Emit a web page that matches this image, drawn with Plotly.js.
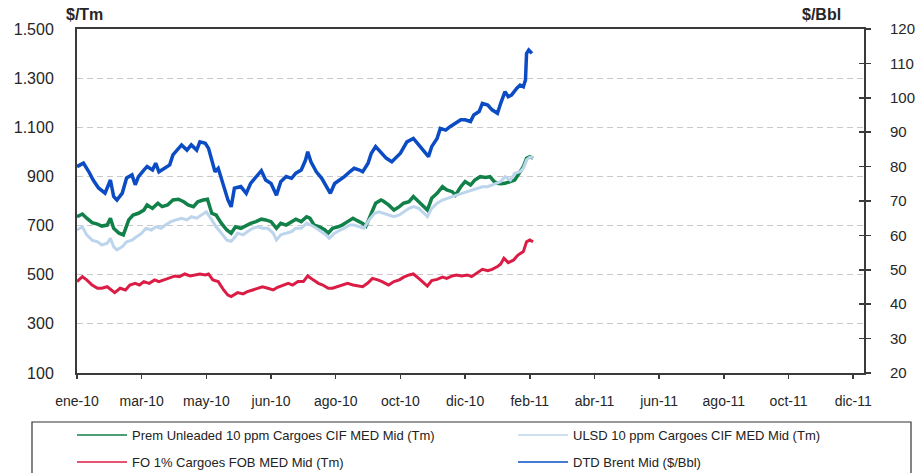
<!DOCTYPE html>
<html><head><meta charset="utf-8">
<script src="https://cdn.plot.ly/plotly-3.0.1.min.js"></script>
<style>html,body{margin:0;padding:0;background:#fff}#chart{width:916px;height:473px}</style>
</head><body><div id="chart"></div>
<script>
// ---- Prem Unleaded 10 ppm Cargoes CIF MED Mid ($/Tm)
const gasDates = ['2010-01-01','2010-01-06','2010-01-10','2010-01-15','2010-01-20','2010-01-24','2010-01-29','2010-02-01','2010-02-04','2010-02-09','2010-02-13','2010-02-18','2010-02-22','2010-02-27','2010-03-04','2010-03-07','2010-03-12','2010-03-17','2010-03-21','2010-03-26','2010-03-31','2010-04-05','2010-04-10','2010-04-14','2010-04-19','2010-04-23','2010-04-28','2010-05-02','2010-05-06','2010-05-10','2010-05-15','2010-05-20','2010-05-24','2010-05-28','2010-06-02','2010-06-07','2010-06-11','2010-06-16','2010-06-21','2010-06-25','2010-06-30','2010-07-05','2010-07-09','2010-07-14','2010-07-19','2010-07-23','2010-07-28','2010-08-02','2010-08-05','2010-08-09','2010-08-14','2010-08-19','2010-08-22','2010-08-26','2010-08-31','2010-09-04','2010-09-09','2010-09-14','2010-09-18','2010-09-23','2010-09-26','2010-10-01','2010-10-05','2010-10-10','2010-10-12','2010-10-17','2010-10-22','2010-10-27','2010-10-31','2010-11-05','2010-11-09','2010-11-14','2010-11-19','2010-11-22','2010-11-26','2010-12-01','2010-12-06','2010-12-10','2010-12-15','2010-12-18','2010-12-23','2010-12-27','2011-01-01','2011-01-05','2011-01-10','2011-01-15','2011-01-19','2011-01-23','2011-01-26','2011-01-29','2011-02-02','2011-02-07','2011-02-11','2011-02-16','2011-02-19','2011-02-22','2011-02-25','2011-02-28'];
const gasVals = [736,747,730,712,706,698,702,730,689,669,662,723,743,750,763,784,770,791,777,784,804,807,797,784,777,797,804,807,750,743,709,682,669,695,689,702,709,716,726,723,716,689,709,702,716,726,716,736,730,702,695,682,669,689,695,702,716,730,720,709,698,750,791,804,800,784,763,777,791,797,818,797,777,763,811,831,858,845,838,824,858,879,865,885,899,896,899,879,872,870,872,879,885,919,940,974,980,974];

// ---- ULSD 10 ppm Cargoes CIF MED Mid ($/Tm)
const dslDates = ['2010-01-01','2010-01-06','2010-01-10','2010-01-15','2010-01-20','2010-01-24','2010-01-29','2010-02-01','2010-02-04','2010-02-07','2010-02-12','2010-02-16','2010-02-21','2010-02-25','2010-03-02','2010-03-06','2010-03-11','2010-03-15','2010-03-20','2010-03-24','2010-03-29','2010-04-03','2010-04-08','2010-04-13','2010-04-17','2010-04-22','2010-04-27','2010-05-01','2010-05-06','2010-05-10','2010-05-15','2010-05-20','2010-05-24','2010-05-27','2010-05-30','2010-06-04','2010-06-08','2010-06-13','2010-06-18','2010-06-22','2010-06-27','2010-07-02','2010-07-05','2010-07-09','2010-07-14','2010-07-19','2010-07-23','2010-07-28','2010-08-02','2010-08-06','2010-08-11','2010-08-16','2010-08-20','2010-08-23','2010-08-28','2010-09-02','2010-09-06','2010-09-11','2010-09-15','2010-09-20','2010-09-24','2010-09-29','2010-10-04','2010-10-08','2010-10-13','2010-10-17','2010-10-22','2010-10-27','2010-10-31','2010-11-05','2010-11-09','2010-11-14','2010-11-19','2010-11-22','2010-11-26','2010-12-01','2010-12-06','2010-12-10','2010-12-15','2010-12-19','2010-12-24','2010-12-29','2011-01-02','2011-01-07','2011-01-12','2011-01-17','2011-01-21','2011-01-26','2011-01-29','2011-02-02','2011-02-07','2011-02-11','2011-02-16','2011-02-19','2011-02-22','2011-02-25','2011-02-28'];
const dslVals = [682,695,662,641,634,621,628,648,614,601,614,634,641,655,669,689,682,695,689,702,716,723,730,723,736,730,743,756,723,695,669,641,636,650,669,662,675,689,695,689,689,669,641,662,669,675,689,689,709,702,689,675,662,648,669,682,689,702,702,695,689,723,750,756,750,743,736,743,756,770,777,770,750,736,770,791,804,811,818,824,831,838,845,852,858,858,865,872,879,899,885,913,919,933,967,978,978];

// ---- FO 1% Cargoes FOB MED Mid ($/Tm)
const foDates = ['2010-01-01','2010-01-06','2010-01-10','2010-01-15','2010-01-20','2010-01-24','2010-01-29','2010-02-02','2010-02-05','2010-02-10','2010-02-15','2010-02-19','2010-02-24','2010-02-28','2010-03-04','2010-03-09','2010-03-14','2010-03-18','2010-03-23','2010-03-28','2010-04-02','2010-04-06','2010-04-11','2010-04-16','2010-04-20','2010-04-25','2010-04-30','2010-05-03','2010-05-07','2010-05-12','2010-05-17','2010-05-21','2010-05-24','2010-05-30','2010-06-04','2010-06-08','2010-06-13','2010-06-18','2010-06-22','2010-06-27','2010-07-02','2010-07-06','2010-07-11','2010-07-16','2010-07-20','2010-07-25','2010-07-30','2010-08-03','2010-08-08','2010-08-13','2010-08-17','2010-08-22','2010-08-26','2010-08-31','2010-09-04','2010-09-09','2010-09-14','2010-09-18','2010-09-23','2010-09-28','2010-10-02','2010-10-07','2010-10-11','2010-10-17','2010-10-22','2010-10-27','2010-10-31','2010-11-05','2010-11-09','2010-11-14','2010-11-19','2010-11-22','2010-11-26','2010-12-01','2010-12-06','2010-12-10','2010-12-15','2010-12-19','2010-12-24','2010-12-29','2011-01-02','2011-01-07','2011-01-12','2011-01-17','2011-01-21','2011-01-26','2011-01-29','2011-02-01','2011-02-05','2011-02-10','2011-02-14','2011-02-19','2011-02-22','2011-02-25','2011-02-28'];
const foVals = [472,492,479,458,445,445,451,438,427,445,438,458,465,458,472,465,479,472,479,485,495,492,503,495,499,503,499,503,479,472,438,417,411,427,422,431,438,445,451,445,438,449,458,465,458,472,472,495,479,465,458,445,445,451,458,465,458,454,451,467,485,479,472,458,472,479,490,499,503,485,465,454,476,481,490,485,495,499,495,499,492,506,522,516,522,533,544,567,549,560,580,594,634,641,634];

// ---- DTD Brent Mid ($/Bbl)
const brentDates = ['2010-01-01','2010-01-07','2010-01-12','2010-01-16','2010-01-21','2010-01-27','2010-02-01','2010-02-04','2010-02-07','2010-02-12','2010-02-16','2010-02-21','2010-02-24','2010-02-27','2010-03-04','2010-03-07','2010-03-12','2010-03-15','2010-03-18','2010-03-23','2010-03-28','2010-03-31','2010-04-05','2010-04-08','2010-04-13','2010-04-17','2010-04-22','2010-04-25','2010-04-30','2010-05-03','2010-05-06','2010-05-09','2010-05-12','2010-05-17','2010-05-21','2010-05-24','2010-05-27','2010-06-02','2010-06-07','2010-06-11','2010-06-16','2010-06-21','2010-06-25','2010-06-30','2010-07-05','2010-07-09','2010-07-14','2010-07-19','2010-07-23','2010-07-28','2010-08-01','2010-08-03','2010-08-06','2010-08-11','2010-08-16','2010-08-20','2010-08-24','2010-08-28','2010-09-02','2010-09-06','2010-09-11','2010-09-15','2010-09-20','2010-09-23','2010-09-28','2010-10-01','2010-10-05','2010-10-10','2010-10-15','2010-10-20','2010-10-28','2010-11-03','2010-11-09','2010-11-14','2010-11-19','2010-11-23','2010-11-26','2010-12-01','2010-12-04','2010-12-09','2010-12-13','2010-12-18','2010-12-23','2010-12-27','2011-01-01','2011-01-04','2011-01-09','2011-01-12','2011-01-17','2011-01-21','2011-01-26','2011-01-29','2011-02-02','2011-02-05','2011-02-08','2011-02-13','2011-02-16','2011-02-19','2011-02-21','2011-02-22','2011-02-24','2011-02-27'];
const brentVals = [80.0,81.0,78.5,76.1,73.8,72.3,76.1,71.3,70.3,72.3,76.7,77.6,74.7,77.1,79.0,80.0,79.0,81.0,78.5,79.5,80.5,83.4,85.3,86.3,84.8,86.3,84.8,87.2,86.8,85.3,81.9,78.5,79.5,74.2,70.3,68.3,73.7,74.2,72.2,75.1,77.1,78.8,76.1,75.1,71.7,75.6,77.1,76.6,78.1,79.0,81.9,84.3,81.4,78.5,76.6,74.2,72.2,75.1,76.1,77.1,78.5,79.5,79.0,78.5,81.0,83.9,85.8,83.9,82.4,81.4,83.9,87.2,88.2,86.3,84.3,82.9,85.8,88.2,91.1,90.6,91.6,92.6,93.6,93.6,93.1,95.0,96.0,98.4,97.9,96.5,95.5,98.4,101.8,100.3,100.8,102.8,103.7,103.2,105.2,112.9,113.9,112.9];

const seriesNames = ['Prem Unleaded 10 ppm Cargoes CIF MED Mid (Tm)','ULSD 10 ppm Cargoes CIF MED Mid (Tm)','FO 1% Cargoes FOB MED Mid (Tm)','DTD Brent Mid ($/Bbl)'];
const xTickVals = ['2010-01-01','2010-03-02','2010-05-01','2010-06-30','2010-08-29','2010-10-28','2010-12-27','2011-02-25','2011-04-26','2011-06-25','2011-08-24','2011-10-23','2011-12-22'];
const xTickText = ['ene-10','mar-10','may-10','jun-10','ago-10','oct-10','dic-10','feb-11','abr-11','jun-11','ago-11','oct-11','dic-11'];
const yTickVals = [100,300,500,700,900,1100,1300,1500];
const yTickText = ['100','300','500','700','900','1.100','1.300','1.500'];
const y2TickVals = [20,30,40,50,60,70,80,90,100,110,120];

const colors = ['#128049','#bcd5ec','#db1d45','#0b4cc4'];
const widths = [3.5,3,3,3.5];
const FONT = 'Liberation Sans, Arial, sans-serif';

const dataSets = [[gasDates,gasVals,'y'],[dslDates,dslVals,'y'],[foDates,foVals,'y'],[brentDates,brentVals,'y2']];
const traces = dataSets.map((d,i)=>({
  type:'scatter', mode:'lines', x:d[0], y:d[1], yaxis:d[2], name:seriesNames[i],
  line:{color:colors[i], width:widths[i], shape:'linear'}, showlegend:false, hoverinfo:'skip'
}));
// legend entries (thin samples), one legend per entry
const legendIds = ['legend','legend2','legend3','legend4'];
seriesNames.forEach((n,i)=>traces.push({
  type:'scatter', mode:'lines', x:[null], y:[null], name:n, legend:legendIds[i],
  line:{color:colors[i], width:1.6}, showlegend:true
}));
traces.push({type:'scatter', mode:'lines', x:[null], y:[null], yaxis:'y3', showlegend:false});

const PW = 787, PH = 344;
const px = v => (v-77)/PW;
const py = v => (373-v)/PH;
function legendAt(xPix, yPix){
  return {orientation:'h', x:px(xPix), xanchor:'left', y:py(yPix), yanchor:'top',
    font:{size:13, family:FONT, color:'#222'}, bgcolor:'rgba(0,0,0,0)', borderwidth:0, itemwidth:50};
}

const axisColor = '#3a3a3a';
const layout = {
  width:916, height:473,
  margin:{l:77, r:52, t:29, b:100, autoexpand:false},
  paper_bgcolor:'#fff', plot_bgcolor:'#fff',
  font:{family:FONT, color:'#262626'},
  xaxis:{type:'date', range:['2010-01-01','2012-01-01'], tickvals:xTickVals, ticktext:xTickText,
    ticks:'outside', ticklen:4, tickwidth:1.5, tickcolor:axisColor, showgrid:false,
    showline:true, linecolor:axisColor, linewidth:2, mirror:true, zeroline:false,
    tickfont:{size:14, family:FONT, color:'#262626'}, ticklabelstandoff:10},
  yaxis:{range:[100,1500], tickvals:yTickVals, ticktext:yTickText, ticks:'',
    showline:true, linecolor:axisColor, linewidth:2, zeroline:false,
    showgrid:true, gridcolor:'#c9c9c9', gridwidth:1, griddash:'6px,4px',
    tickfont:{size:16, family:FONT, color:'#262626'}, ticklabelstandoff:18},
  yaxis2:{range:[20,120], tickvals:y2TickVals, overlaying:'y', side:'right', ticks:'outside', ticklen:5,
    tickwidth:1.5, tickcolor:axisColor, showline:true, linecolor:axisColor, linewidth:2, showgrid:false, zeroline:false,
    tickfont:{size:15, family:FONT, color:'#262626'}, ticklabelstandoff:16},
  yaxis3:{range:[20,120], tickvals:y2TickVals, overlaying:'y', side:'right', ticks:'inside', ticklen:5,
    tickwidth:1.5, tickcolor:axisColor, showticklabels:false, showline:false, showgrid:false, zeroline:false},
  legend:legendAt(72,420),
  legend2:legendAt(513,420),
  legend3:legendAt(72,447),
  legend4:legendAt(513,447),
  shapes:[{type:'rect', xref:'paper', yref:'paper', x0:px(32), x1:px(911),
    y0:py(422), y1:py(490), line:{color:'#333', width:1.2}, fillcolor:'rgba(0,0,0,0)', layer:'below'}],
  annotations:[
    {text:'<b>$/Tm</b>', xref:'paper', yref:'paper', x:px(84), y:py(15), xanchor:'center', yanchor:'middle',
     showarrow:false, font:{size:16, family:FONT, color:'#262626'}},
    {text:'<b>$/Bbl</b>', xref:'paper', yref:'paper', x:px(821), y:py(15), xanchor:'center', yanchor:'middle',
     showarrow:false, font:{size:16, family:FONT, color:'#262626'}}
  ],
  showlegend:true
};
Plotly.newPlot('chart', traces, layout, {staticPlot:true, displayModeBar:false});
</script></body></html>
